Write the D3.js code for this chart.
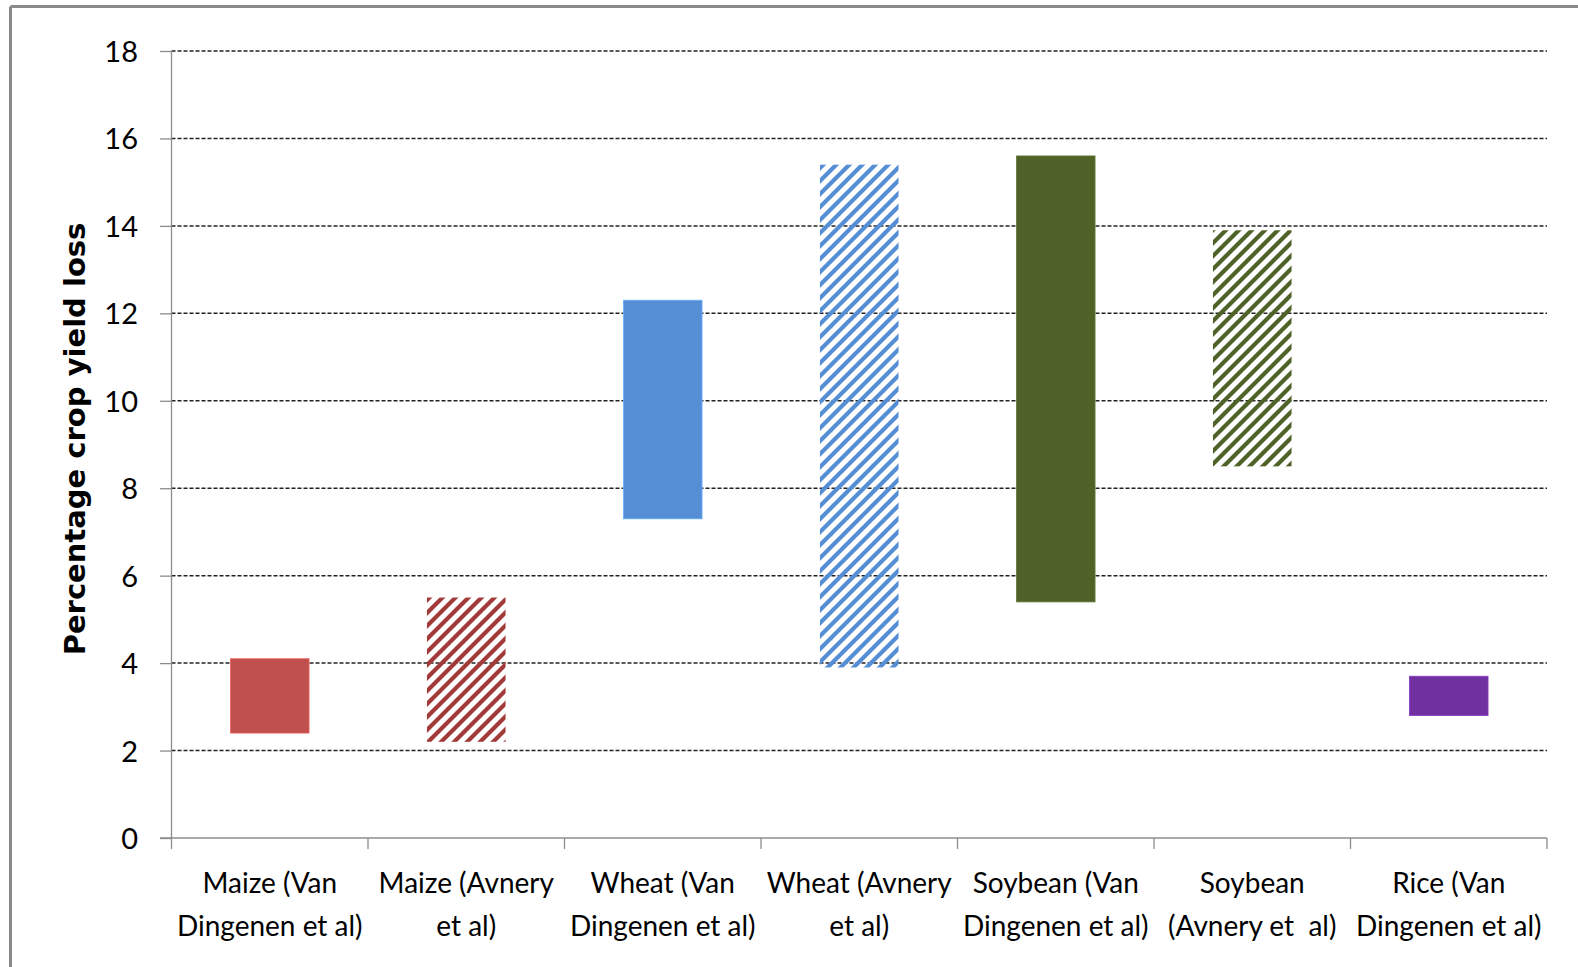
<!DOCTYPE html>
<html>
<head>
<meta charset="utf-8">
<script src="https://cdn.jsdelivr.net/npm/d3@7"></script>
<style>
  html, body { margin: 0; padding: 0; background: #fff; }
  svg { display: block; }
  .tick text { font-family: Lato, "Open Sans", sans-serif; fill: #000; }
  text.cat tspan { white-space: pre; }
</style>
</head>
<body>
<svg id="chart" width="1578" height="967"></svg>
<script>
// Crop yield loss ranges (percent) by crop and study
const categories = [
  ["Maize (Van", "Dingenen et al)"],
  ["Maize (Avnery", "et al)"],
  ["Wheat (Van", "Dingenen et al)"],
  ["Wheat (Avnery", "et al)"],
  ["Soybean (Van", "Dingenen et al)"],
  ["Soybean", "(Avnery et  al)"],
  ["Rice (Van", "Dingenen et al)"]
];
const lowValues  = [2.4, 2.2, 7.3, 3.9, 5.4, 8.5, 2.8];
const highValues = [4.1, 5.5, 12.3, 15.4, 15.6, 13.9, 3.7];
const hatched    = [false, true, false, true, false, true, false];
const barColors  = ["#C0504D", "#A33A3A", "#558ED5", "#558ED5", "#4F6228", "#4F6228", "#7030A0"];
const yTicks     = [0, 2, 4, 6, 8, 10, 12, 14, 16, 18];
const yTitle     = "Percentage crop yield loss";

const svg = d3.select("#chart");
const margin = { left: 171.5, right: 1547, top: 51, bottom: 838 };

// Outer frame (top and left edges)
svg.append("line").attr("x1", 10.5).attr("x2", 1578).attr("y1", 6.5).attr("y2", 6.5)
  .attr("stroke", "#8a8a8a").attr("stroke-width", 3);
svg.append("line").attr("x1", 10.5).attr("x2", 10.5).attr("y1", 6.5).attr("y2", 967)
  .attr("stroke", "#8a8a8a").attr("stroke-width", 3);

const x = d3.scaleBand()
  .domain(d3.range(categories.length))
  .range([margin.left, margin.right])
  .paddingInner(0).paddingOuter(0);

const y = d3.scaleLinear().domain([0, 18]).range([margin.bottom, margin.top]);

// Diagonal hatch patterns
const defs = svg.append("defs");
barColors.forEach((c, i) => {
  if (!hatched[i]) return;
  const s = 13;
  const p = defs.append("pattern")
    .attr("id", "hatch" + i)
    .attr("patternUnits", "userSpaceOnUse")
    .attr("width", s).attr("height", s);
  p.append("path")
    .attr("d", `M${-s/2},${s/2} L${s/2},${-s/2} M0,${s} L${s},0 M${s/2},${s*1.5} L${s*1.5},${s/2}`)
    .attr("stroke", c).attr("stroke-width", 4.2).attr("fill", "none");
});

// Dashed horizontal gridlines
svg.append("g").selectAll("line")
  .data(yTicks.filter(d => d > 0))
  .join("line")
  .attr("x1", margin.left).attr("x2", margin.right)
  .attr("y1", d => y(d)).attr("y2", d => y(d))
  .attr("stroke", "#222").attr("stroke-width", 1.5)
  .attr("stroke-dasharray", "4,2");

// Floating range bars
const bw = x.bandwidth() * 0.4;
svg.append("g").selectAll("rect")
  .data(d3.range(categories.length))
  .join("rect")
  .attr("x", i => x(i) + (x.bandwidth() - bw) / 2)
  .attr("width", bw)
  .attr("y", i => y(highValues[i]))
  .attr("height", i => y(lowValues[i]) - y(highValues[i]))
  .attr("fill", i => hatched[i] ? `url(#hatch${i})` : barColors[i])
  .attr("stroke", i => hatched[i] ? "none" : d3.color(barColors[i]).brighter(0.6))
  .attr("stroke-width", 0.8);

// Y axis
const yAxis = svg.append("g")
  .attr("transform", `translate(${margin.left},0)`)
  .call(d3.axisLeft(y).tickValues(yTicks).tickSize(11.5).tickPadding(22).tickFormat(d3.format("d")));
yAxis.selectAll("line, path").attr("stroke", "#8c8c8c").attr("stroke-width", 1.3);
yAxis.select(".domain").attr("d", `M0,${margin.bottom}V${margin.top}`);
yAxis.selectAll("text").attr("font-size", 29).attr("dy", "0.36em");

// X axis with category boundary ticks
const xAxis = svg.append("g").attr("transform", `translate(0,${margin.bottom})`);
xAxis.append("line").attr("x1", margin.left - 11.5).attr("x2", margin.right)
  .attr("stroke", "#8c8c8c").attr("stroke-width", 1.3);
xAxis.selectAll("line.tk")
  .data(d3.range(categories.length + 1))
  .join("line").attr("class", "tk")
  .attr("x1", i => i < categories.length ? x(i) : margin.right)
  .attr("x2", i => i < categories.length ? x(i) : margin.right)
  .attr("y1", 0).attr("y2", 11)
  .attr("stroke", "#8c8c8c").attr("stroke-width", 1.3);

const labels = xAxis.selectAll("text.cat")
  .data(categories)
  .join("text").attr("class", "cat")
  .attr("text-anchor", "middle")
  .attr("font-family", "Lato, 'Open Sans', sans-serif")
  .attr("font-size", 28)
  .attr("fill", "#000");
labels.each(function(lines, i) {
  const t = d3.select(this);
  lines.forEach((ln, k) => {
    t.append("tspan")
      .attr("x", x(i) + x.bandwidth() / 2)
      .attr("y", 45 + k * 43 + 10)
      .text(ln);
  });
});

// Y axis title
svg.append("text")
  .attr("transform", `translate(85,439) rotate(-90)`)
  .attr("text-anchor", "middle")
  .attr("font-family", "'DejaVu Sans', Verdana, sans-serif")
  .attr("font-weight", "bold")
  .attr("font-size", 29)
  .attr("fill", "#000")
  .text(yTitle);
</script>
</body>
</html>
